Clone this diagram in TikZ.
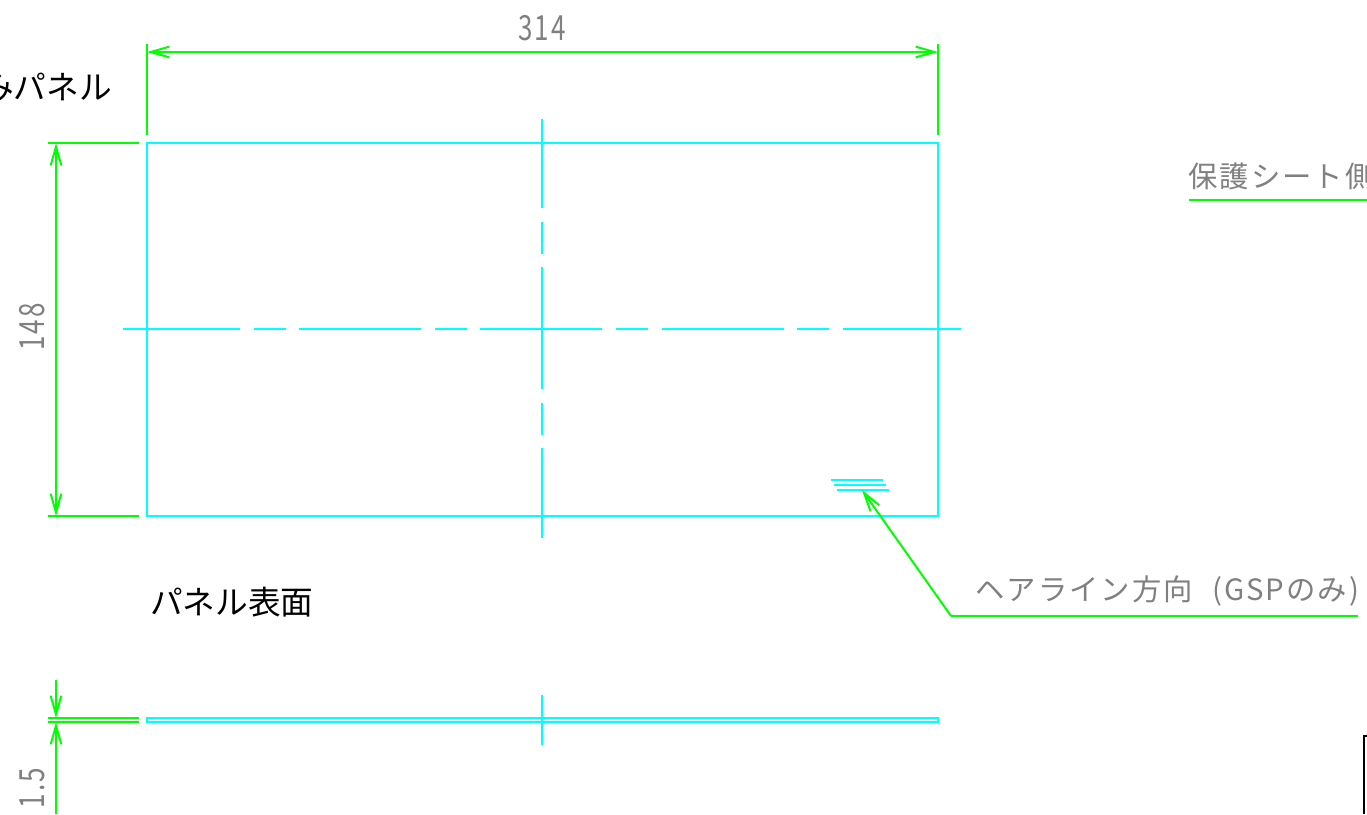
\documentclass[tikz,border=0pt]{standalone}
\usepackage{fontspec}
\usepackage{xcolor}
\usetikzlibrary{arrows.meta}
\newfontfamily\cjk{Noto Sans CJK JP}
\newfontfamily\cjkwide{Noto Sans CJK JP}[LetterSpace=7]
\newfontfamily\dimfont{Noto Sans CJK JP}[FakeStretch=0.75, LetterSpace=6]
\definecolor{partcyan}{RGB}{0, 255, 255}
\definecolor{dimgreen}{RGB}{0, 255, 0}
\definecolor{dimgray}{RGB}{128, 128, 128}
\tikzset{
  barb/.tip={Straight Barb[length=14pt, width=8pt, line width=1.5pt]},
  outline/.style={partcyan, line width=1.5pt},
  centerline/.style={partcyan, line width=1.5pt, dash pattern=on 91.5pt off 10.2pt on 24pt off 10.2pt},
  dimline/.style={dimgreen, line width=1.5pt},
  dimarrow/.style={dimline, -barb},
  dimboth/.style={dimline, barb-barb},
  dimtext/.style={dimgray, font=\dimfont\fontsize{26pt}{26pt}\selectfont, inner sep=0pt},
  notetext/.style={dimgray, font=\cjkwide\fontsize{22pt}{22pt}\selectfont, inner sep=0pt, anchor=base west},
  viewtext/.style={black, font=\cjk\fontsize{24.5pt}{24.5pt}\selectfont, inner sep=0pt, anchor=base west}
}

\begin{document}
\begin{tikzpicture}[x=0.75pt, y=-0.75pt]
  \useasboundingbox (0,0) rectangle (1367,814);

  % panel face
  \coordinate (panelNW) at (147,143);
  \coordinate (panelSE) at (938,516);
  \draw[outline] (panelNW) rectangle (panelSE);
  \draw[centerline, dash phase=3.75pt] (123,329) -- (961,329);
  \draw[centerline, dash phase=24.75pt] (542,119) -- (542,538);

  % hairline mark
  \draw[outline] (831,480) -- (883,480);
  \draw[outline] (834,485) -- (886,485);
  \draw[outline] (837,490) -- (889,490);

  % panel edge view
  \draw[outline] (147,718) rectangle (938,722);
  \draw[outline] (542,695) -- (542,745);

  % dimension 314
  \coordinate (dimTopL) at (147,52);
  \coordinate (dimTopR) at (938,52);
  \draw[dimline] (147,43.5) -- (147,135);
  \draw[dimline] (938,43.5) -- (938,135);
  \draw[dimboth] (dimTopL) -- (dimTopR);
  \node[dimtext] (dimWidth) at (542,28) {314};

  % dimension 148
  \coordinate (dimLeftT) at (56,143);
  \coordinate (dimLeftB) at (56,516);
  \draw[dimline] (48,143) -- (139,143);
  \draw[dimline] (48,516) -- (139,516);
  \draw[dimboth] (dimLeftT) -- (dimLeftB);
  \node[dimtext, rotate=90] (dimHeight) at (32,327) {148};

  % dimension 1.5
  \draw[dimline] (48,718) -- (139,718);
  \draw[dimline] (48,722) -- (139,722);
  \draw[dimarrow] (56,680) -- (56,718);
  \draw[dimarrow] (56,814) -- (56,722);
  \node[dimtext, rotate=90] (dimThick) at (32,788) {1.5};

  % leader to hairline mark
  \coordinate (leadTip) at (862,490);
  \coordinate (leadBend) at (951,616);
  \coordinate (leadEnd) at (1358,616);
  \draw[dimarrow] (leadBend) -- (leadTip);
  \draw[dimline] (leadBend) -- (leadEnd);
  \node[notetext] (hairNote) at (975,600) {ヘアライン方向 \hspace{8pt}(GSPのみ)};

  % protective sheet side
  \coordinate (sheetL) at (1189,200);
  \coordinate (sheetR) at (1367,200);
  \draw[dimline] (sheetL) -- (sheetR);
  \node[notetext] (sheetNote) at (1188,187) {保護シート側};

  % view titles
  \node[viewtext] (backTitle) at (-19,99) {みパネル};
  \node[viewtext] (faceTitle) at (150,614) {パネル表面};

  % next frame
  \draw[black, line width=1.5pt] (1367,736) -- (1364,736) -- (1364,814);
\end{tikzpicture}
\end{document}
